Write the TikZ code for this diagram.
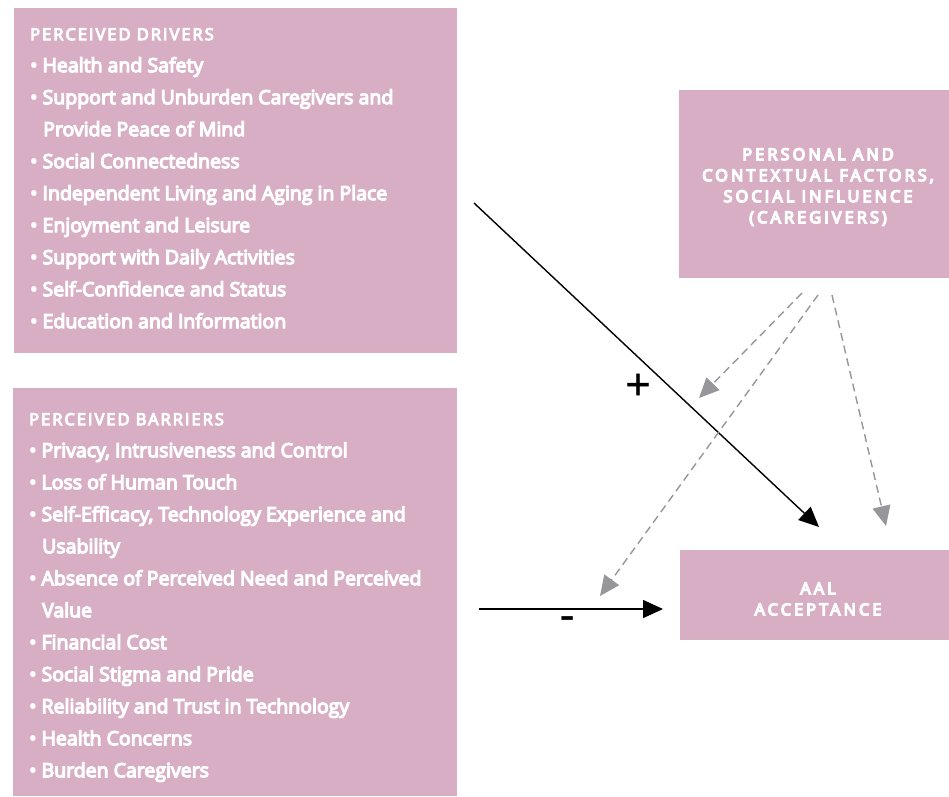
\documentclass[tikz,border=0pt]{standalone}
\usepackage{fontspec}
\usetikzlibrary{arrows.meta}
\newfontfamily\bodyfont[FakeBold=6]{Open Sans}
\newfontfamily\headfont[FakeBold=6,LetterSpace=12]{Open Sans}
\newfontfamily\capfont[FakeBold=8,LetterSpace=19]{Open Sans}
\newfontfamily\signfont[FakeBold=1]{Open Sans}
\definecolor{boxpink}{RGB}{216,174,196}
\definecolor{dashgray}{RGB}{150,150,155}
\tikzset{
  panel/.style={fill=boxpink, draw=none, anchor=north west, inner sep=0pt},
  listtext/.style={anchor=north west, align=left, inner sep=0pt, text=white,
    font=\bodyfont\fontsize{19.5}{32}\selectfont},
  captext/.style={align=center, inner sep=0pt, text=white,
    font=\capfont\fontsize{16.3}{21}\selectfont},
  effect/.style={line width=1.4pt, -{Triangle[length=20pt,width=18pt]}},
  moderator/.style={line width=1.4pt, dashgray, dash pattern=on 8pt off 5pt,
    -{Triangle[length=20pt,width=18pt]}},
  sign/.style={inner sep=0pt, font=\signfont\fontsize{44}{44}\selectfont},
}
\newcommand{\hd}[1]{{\headfont\fontsize{16.5}{32}\selectfont #1}}
\newcommand{\itm}{\textbullet\ }
\newcommand{\cont}{\hspace*{13pt}}
\begin{document}
\begin{tikzpicture}[x=1pt,y=-1pt]
  \useasboundingbox (0,0) rectangle (949,796);

  % panels
  \node[panel, minimum width=443pt, minimum height=345pt] (drivers) at (14,8) {};
  \node[panel, minimum width=444pt, minimum height=408pt] (barriers) at (13,388) {};
  \node[panel, minimum width=270pt, minimum height=188pt] (context) at (679,90) {};
  \node[panel, minimum width=269pt, minimum height=90pt] (aal) at (680,550) {};

  % driver list
  \node[listtext] (driverlist) at (30,28) {\hd{PERCEIVED DRIVERS}\\
    \itm Health and Safety\\
    \itm Support and Unburden Caregivers and\\
    \cont Provide Peace of Mind\\
    \itm Social Connectedness\\
    \itm Independent Living and Aging in Place\\
    \itm Enjoyment and Leisure\\
    \itm Support with Daily Activities\\
    \itm Self-Confidence and Status\\
    \itm Education and Information};

  % barrier list
  \node[listtext] (barrierlist) at (29,413) {\hd{PERCEIVED BARRIERS}\\
    \itm Privacy, Intrusiveness and Control\\
    \itm Loss of Human Touch\\
    \itm Self-Efficacy, Technology Experience and\\
    \cont Usability\\
    \itm Absence of Perceived Need and Perceived\\
    \cont Value\\
    \itm Financial Cost\\
    \itm Social Stigma and Pride\\
    \itm Reliability and Trust in Technology\\
    \itm Health Concerns\\
    \itm Burden Caregivers};

  % labels in the right-hand panels
  \node[captext] (contextlabel) at (818,187) {PERSONAL AND\\CONTEXTUAL FACTORS,\\SOCIAL INFLUENCE\\(CAREGIVERS)};
  \node[captext] (aallabel) at (818,599) {AAL\\ACCEPTANCE};

  % connector end points
  \coordinate (plusstart) at (474,203);
  \coordinate (plusend) at (819,527);
  \coordinate (minusstart) at (479,609);
  \coordinate (minusend) at (663,609);
  \coordinate (m1s) at (802,293);
  \coordinate (m1e) at (699,398);
  \coordinate (m2s) at (818,295);
  \coordinate (m2e) at (600,596);
  \coordinate (m3s) at (832,295);
  \coordinate (m3e) at (886,526);

  % effects
  \draw[effect] (plusstart) -- (plusend);
  \draw[effect] (minusstart) -- (minusend);
  \node[sign] (plus) at (638,387) {+};
  \node[sign] (minus) at (567,623) {-};

  % moderating influences
  \draw[moderator] (m1s) -- (m1e);
  \draw[moderator] (m2s) -- (m2e);
  \draw[moderator] (m3s) -- (m3e);
\end{tikzpicture}
\end{document}
